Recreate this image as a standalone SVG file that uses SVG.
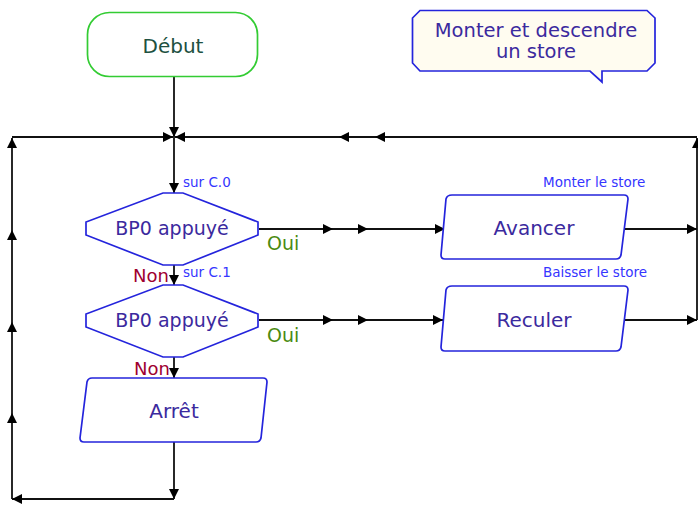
<svg xmlns="http://www.w3.org/2000/svg" width="698" height="507" viewBox="0 0 698 507">
<style>
.shape{fill:#ffffff;stroke:#2424dc;stroke-width:1.7}
.start{fill:#ffffff;stroke:#33cc33;stroke-width:1.7}
.note{fill:#fffcf0;stroke:#2424dc;stroke-width:1.7}
.lbl{font-family:"DejaVu Sans",Verdana,sans-serif;fill:#3b2a9e;text-anchor:middle}
.small{font-family:"DejaVu Sans",Verdana,sans-serif;font-size:13.5px;fill:#3535ff}
.oui{font-family:"DejaVu Sans",Verdana,sans-serif;font-size:19px;fill:#4a8a10}
.non{font-family:"DejaVu Sans",Verdana,sans-serif;font-size:18px;fill:#a00030}
.c{fill:none;stroke:#111;stroke-width:1.8;marker-mid:url(#a);marker-end:url(#a)}
</style>
<defs>
<marker id="a" markerUnits="userSpaceOnUse" markerWidth="11" markerHeight="11" refX="10" refY="5" orient="auto">
<path d="M0,0 L10,5 L0,10 z" fill="#000"/>
</marker>
</defs>
<rect width="698" height="507" fill="#ffffff"/>
<g id="connectors">
<path class="c" d="M174,76 L174,137"/>
<path class="c" d="M174,137 L174,193"/>
<path class="c" d="M174,265 L174,285"/>
<path class="c" d="M174,357 L174,378"/>
<path class="c" d="M174,442 L174,499"/>
<path class="c" d="M174,499 L12,499"/>
<path class="c" d="M12,499 L12,413 L12,322 L12,230 L12,138"/>
<path class="c" d="M12,137 L173,137"/>
<path class="c" d="M259,229 L333,229 L368,229 L445,229"/>
<path class="c" d="M259,320 L333,320 L368,320 L443,320"/>
<path class="c" d="M625,229 L697,229"/>
<path class="c" d="M620,320 L697,320"/>
<path class="c" d="M697,320 L697,138"/>
<path class="c" d="M697,137 L375,137 L339,137 L175,137"/>
</g>
<g id="debut">
<rect class="start" x="87.5" y="12.5" width="170" height="64" rx="22"/>
<text class="lbl" x="173" y="53" font-size="20" style="fill:#205040">Début</text>
</g>
<g id="note">
<path class="note" d="M420,10.5 L647,10.5 L655,18 L655,63 L647,71 L602,71 L602,82 L590,71 L420,71 L412.5,63 L412.5,18 Z"/>
<text class="lbl" x="536" y="37" font-size="19.5">Monter et descendre</text>
<text class="lbl" x="536" y="58" font-size="19.5">un store</text>
</g>
<g id="test1">
<polygon class="shape" points="163,193 183,193 258,222 258,235 183,265 163,265 86,235 86,222"/>
<text class="lbl" x="172" y="235" font-size="19">BP0 appuyé</text>
<text class="small" x="183" y="187">sur C.0</text>
<text class="oui" x="267" y="250">Oui</text>
<text class="non" x="133" y="282">Non</text>
</g>
<g id="test2">
<polygon class="shape" points="163,285 183,285 258,314 258,327 183,357 163,357 86,327 86,314"/>
<text class="lbl" x="172" y="327" font-size="19">BP0 appuyé</text>
<text class="small" x="183" y="277">sur C.1</text>
<text class="oui" x="267" y="342">Oui</text>
<text class="non" x="134" y="375">Non</text>
</g>
<g id="avancer">
<path class="shape" d="M452,195 L624,195 Q628,195 628,199 L621,255 Q620,259 616,259 L445,259 Q441,259 441,255 L446,199 Q447,195 452,195 Z"/>
<text class="lbl" x="534" y="235" font-size="20">Avancer</text>
<text class="small" x="543" y="187">Monter le store</text>
</g>
<g id="reculer">
<path class="shape" d="M452,286 L624,286 Q628,286 628,290 L621,347 Q620,351 616,351 L445,351 Q441,351 441,347 L446,290 Q447,286 452,286 Z"/>
<text class="lbl" x="534" y="327" font-size="20">Reculer</text>
<text class="small" x="543" y="277">Baisser le store</text>
</g>
<g id="arret">
<path class="shape" d="M92,378 L263,378 Q267,378 267,382 L261,438 Q260,442 256,442 L84,442 Q80,442 80,438 L87,382 Q88,378 92,378 Z"/>
<text class="lbl" x="174" y="418" font-size="20">Arrêt</text>
</g>
</svg>
